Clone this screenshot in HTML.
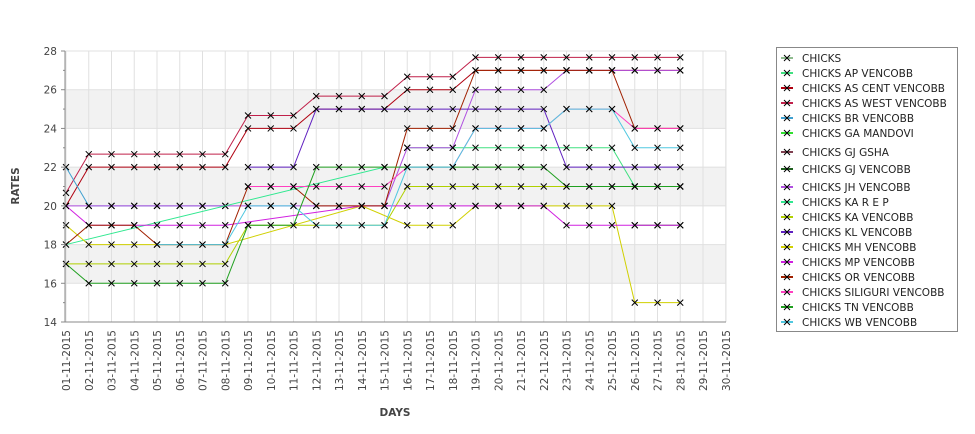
<!DOCTYPE html>
<html><head><meta charset="utf-8"><style>
body{margin:0;background:#fff;font-family:"Liberation Sans","DejaVu Sans",sans-serif}
svg text{font-family:"DejaVu Sans","Liberation Sans",sans-serif}
</style></head><body>
<svg id="chart" width="975" height="429" viewBox="0 0 975 429" xmlns="http://www.w3.org/2000/svg">
<g id="bg"></g><g id="grid"></g><g id="series"></g><g id="axes"></g><g id="legend"></g>
</svg>
<script>
const categories = Array.from({length:30},(_,i)=>String(i+1).padStart(2,'0')+'-11-2015');
const yTicks = [14,16,18,20,22,24,26,28];
const seriesNames = ["CHICKS","CHICKS AP VENCOBB","CHICKS AS CENT VENCOBB","CHICKS AS WEST VENCOBB","CHICKS BR VENCOBB","CHICKS GA MANDOVI","CHICKS GJ GSHA","CHICKS GJ VENCOBB","CHICKS JH VENCOBB","CHICKS KA R E P","CHICKS KA VENCOBB","CHICKS KL VENCOBB","CHICKS MH VENCOBB","CHICKS MP VENCOBB","CHICKS OR VENCOBB","CHICKS SILIGURI VENCOBB","CHICKS TN VENCOBB","CHICKS WB VENCOBB"];
const seriesColors = ["#8fbc8f","#40e080","#b00010","#c0204a","#40a0d0","#30e030","#804050","#206020","#b050e0","#30e890","#b0d000","#6020c0","#d0d000","#d020e0","#a02000","#ff40c0","#20a020","#50c8e0"];
const N=null;
const sChicks = [];
const sAP = [N,N,N,N,N,N,N,N,N,N,N,N,N,N,N,23,23,23,23,23,23,23,23,23,23,21,21,21];
const sASCent = [20,22,22,22,22,22,22,22,24,24,24,25,25,25,25,26,26,26,27,27,27,27,27,27,27,27,27,27];
const sASWest = [20.67,22.67,22.67,22.67,22.67,22.67,22.67,22.67,24.67,24.67,24.67,25.67,25.67,25.67,25.67,26.67,26.67,26.67,27.67,27.67,27.67,27.67,27.67,27.67,27.67,27.67,27.67,27.67];
const sBR = [22,20,20,20,20,20,20,20];
const sGA = [];
const sGJGsha = [];
const sGJ = [N,N,N,N,N,N,N,N,N,N,N,N,N,N,N,N,N,N,N,N,N,N,N,N,N,19,19,19];
const sJH = [20,20,20,20,20,20,20,20,20,20,20,20,20,20,20,23,23,23,26,26,26,26,27,27,27,27,27,27];
const sKAREP = [18,N,N,N,N,N,N,N,N,N,N,N,N,N,22];
const sKA = [17,17,17,17,17,17,17,17,19,N,N,N,N,N,19,21,21,21,21,21,21,21,21,21,21,21,21,21];
const sKL = [N,N,N,N,N,N,N,N,22,22,22,25,25,25,25,25,25,25,25,25,25,25,22,22,22,22,22,22];
const sMH = [19,18,18,18,18,18,18,18,N,N,N,N,N,20,N,19,19,19,20,20,20,20,20,20,20,15,15,15];
const sMP = [20,19,19,19,19,19,19,19,N,N,N,N,N,20,20,20,20,20,20,20,20,20,19,19,19,19,19,19];
const sOR = [18,19,19,19,18,N,N,18,21,21,21,20,20,20,20,24,24,24,27,27,27,27,27,27,27,24,24,24];
const sSil = [N,N,N,N,N,N,N,N,21,21,21,21,21,21,21,22,22,22,24,24,24,24,25,25,25,24,24,24];
const sTN = [17,16,16,16,16,16,16,16,19,19,19,22,22,22,22,22,22,22,22,22,22,22,21,21,21,21,21,21];
const sWB = [N,N,N,N,18,18,18,18,20,20,20,19,19,19,19,22,22,22,24,24,24,24,25,25,25,23,23,23];
const seriesData = [sChicks,sAP,sASCent,sASWest,sBR,sGA,sGJGsha,sGJ,sJH,sKAREP,sKA,sKL,sMH,sMP,sOR,sSil,sTN,sWB];

const NS='http://www.w3.org/2000/svg';
const L=65,R=726,T=51,B=322,yMin=14,yMax=28;
const x=i=>66+i*22.75;
const y=v=>B-(v-yMin)/(yMax-yMin)*(B-T);
function el(tag,attrs,parent){const e=document.createElementNS(NS,tag);for(const k in attrs)e.setAttribute(k,attrs[k]);parent.appendChild(e);return e;}
const bg=document.getElementById('bg'),grid=document.getElementById('grid'),ser=document.getElementById('series'),ax=document.getElementById('axes'),leg=document.getElementById('legend');
[[16,18],[20,22],[24,26]].forEach(b=>{const r=el('rect',{x:L,y:y(b[1]),width:R-L,height:y(b[0])-y(b[1]),fill:'#f2f2f2'},bg);

});
categories.forEach((c,i)=>{const g=el('line',{x1:x(i),x2:x(i),y1:T,y2:B,stroke:'#e0e0e0','stroke-width':1},grid);


const t=el('text',{x:0,y:0,'font-size':10.5,fill:'#444','text-anchor':'end',transform:`translate(${x(i)+4},${B+8}) rotate(-90)`},ax);
t.textContent=c;

});
el('line',{x1:R,x2:R,y1:T,y2:B,stroke:'#e0e0e0'},grid);
yTicks.forEach(v=>{const g=el('line',{x1:L,x2:R,y1:y(v),y2:y(v),stroke:'#e0e0e0'},grid);


el('line',{x1:L-4,x2:L,y1:y(v),y2:y(v),stroke:'#888'},ax);
if(v<28)el('line',{x1:L-2,x2:L,y1:y(v+1),y2:y(v+1),stroke:'#888'},ax);
const t=el('text',{x:L-8,y:y(v)+4,'font-size':10.5,fill:'#444','text-anchor':'end'},ax);
t.textContent=v;

});
el('line',{x1:L,x2:L,y1:T,y2:B,stroke:'#888'},ax);
el('line',{x1:L,x2:R,y1:B,y2:B,stroke:'#888'},ax);
const yt=el('text',{x:0,y:0,'font-size':10.5,'font-weight':'bold',fill:'#444','text-anchor':'middle',transform:'translate(19,186) rotate(-90)'},ax);
yt.textContent='RATES';


const xt=el('text',{x:395,y:416,'font-size':10.5,'font-weight':'bold',fill:'#444','text-anchor':'middle'},ax);
xt.textContent='DAYS';


function cross(cx,cy,p){el('path',{d:`M${cx-3},${cy-3}L${cx+3},${cy+3}M${cx-3},${cy+3}L${cx+3},${cy-3}`,stroke:'#000','stroke-width':1},p);}
seriesData.forEach((d,si)=>{const g=el('g',{},ser);


const pts=[];d.forEach((v,i)=>{if(v!=null)pts.push([x(i),y(v)]);});
if(pts.length>1)el('polyline',{points:pts.map(p=>p.join(',')).join(' '),fill:'none',stroke:seriesColors[si],'stroke-width':1},g);
pts.forEach(p=>cross(p[0],p[1],g));});
const lb=el('rect',{x:776.5,y:47.5,width:181,height:284,fill:'#fff',stroke:'#888'},leg);


const ly=[58,73,88,103,118,133,152,169,187,202,217,232,247,262,277,292,307,322];
seriesNames.forEach((n,i)=>{const g=el('g',{},leg);


el('line',{x1:781,x2:793,y1:ly[i],y2:ly[i],stroke:seriesColors[i],'stroke-width':2},g);
cross(787,ly[i],g);
const t=el('text',{x:802,y:ly[i]+4,'font-size':10.5,fill:'#222'},g);t.textContent=n;});
</script>
</body></html>
